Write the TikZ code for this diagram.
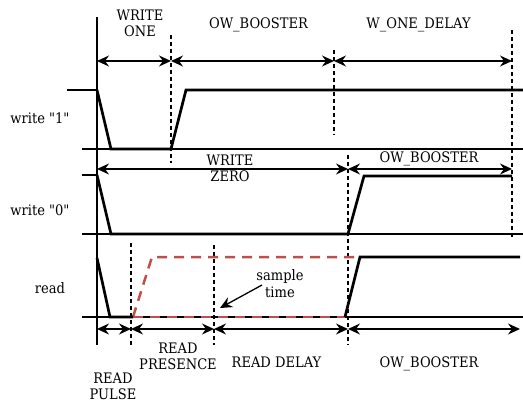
\documentclass[tikz,border=0pt]{standalone}
\usepackage{fontspec}
\newfontfamily\lblfont{DejaVu Serif}[FakeStretch=0.9]
\usetikzlibrary{arrows.meta}
\definecolor{sred}{RGB}{190,80,75}
\begin{document}
\begin{tikzpicture}[x=1pt,y=-1pt,
  wave/.style={line width=2.7pt, line join=miter},
  thinline/.style={line width=1.1pt},
  guide/.style={line width=1.2pt, dash pattern=on 4pt off 3pt},
  tip/.tip={Stealth[length=12pt,width=11pt,inset=4pt]},
  span/.style={line width=1.3pt, tip-tip},
  pointer/.style={line width=1.3pt, -tip},
  lbl/.style={font=\lblfont\fontsize{14.5}{16}\selectfont, align=center, inner sep=0pt, anchor=north},
  rowlbl/.style={font=\lblfont\fontsize{14.5}{16}\selectfont, inner sep=0pt, anchor=base},
  redwave/.style={line width=2.5pt, color=sred, dash pattern=on 10pt off 7pt}]
\useasboundingbox (0,0) rectangle (523,404);

% ---------- axis and guides ----------
\draw[thinline] (97,17) -- (97,345);
\draw[guide] (171,35) -- (171,163);
\draw[guide] (334,50) -- (334,135);
\draw[guide] (512,30) -- (512,238);
\draw[guide] (348,155) -- (348,345);
\draw[guide] (131,243) -- (131,345);
\draw[guide] (214,245) -- (214,345);

% ---------- baselines ----------
\draw[thinline] (67,90) -- (97,90);
\draw[thinline] (82,149) -- (523,149);
\draw[thinline] (82,175) -- (97,175);
\draw[thinline] (82,234) -- (523,234);
\draw[thinline] (82,317) -- (523,317);

% ---------- write "1" ----------
\draw[wave] (97,90) -- (111,149) -- (171,149) -- (186,90) -- (523,90);
% ---------- write "0" ----------
\draw[wave] (97,175) -- (111,234) -- (348,234) -- (364,176) -- (512,176);
% ---------- read ----------
\draw[redwave] (133,317) -- (152,257) -- (357,257);
\draw[redwave] (133,317) -- (345,317);
\draw[wave] (97,258) -- (110,317) -- (133,317);
\draw[wave] (345,317) -- (360,257) -- (520,257);

% ---------- span coordinates ----------
\coordinate (a0) at (97,61);
\coordinate (a1) at (171,61);
\coordinate (a2) at (334,61);
\coordinate (a3) at (512,61);
\coordinate (b0) at (97,169);
\coordinate (b1) at (348,169);
\coordinate (b2) at (512,169);
\coordinate (c0) at (97,329);
\coordinate (c1) at (131,329);
\coordinate (c2) at (214,329);
\coordinate (c3) at (348,329);
\coordinate (c4) at (520,329);

\draw[span] (a0) -- (a1);
\draw[span] (a1) -- (a2);
\draw[span] (a2) -- (a3);
\draw[span] (b0) -- (b1);
\draw[span] (b1) -- (b2);
\draw[span] (c0) -- (c1);
\draw[span] (c1) -- (c2);
\draw[span] (c2) -- (c3);
\draw[span] (c3) -- (c4);

% ---------- labels ----------
\node[lbl] (lwone) at (140,10) {WRITE\\ONE};
\node[lbl] (lob1) at (258.5,18) {OW\_BOOSTER};
\node[lbl] (lwod) at (418.5,18) {W\_ONE\_DELAY};
\node[lbl] (lwzero) at (230,155) {WRITE\\ZERO};
\node[lbl] (lob2) at (429,152) {OW\_BOOSTER};
\node[lbl] (lpres) at (178,343) {READ\\PRESENCE};
\node[lbl] (lpulse) at (113,373) {READ\\PULSE};
\node[lbl] (ldelay) at (276.5,357) {READ DELAY};
\node[lbl] (lob3) at (429,357) {OW\_BOOSTER};
\node[lbl, font=\lblfont\fontsize{14.5}{17}\selectfont] (lsample) at (280,269) {sample\\time};

\node[rowlbl] (rw1) at (40,124) {write "1"};
\node[rowlbl] (rw0) at (40,215) {write "0"};
\node[rowlbl] (rrd) at (50,293) {read};

\coordinate (stail) at (262,285);
\coordinate (stip) at (220,308);
\draw[pointer] (stail) -- (stip);
\end{tikzpicture}
\end{document}
